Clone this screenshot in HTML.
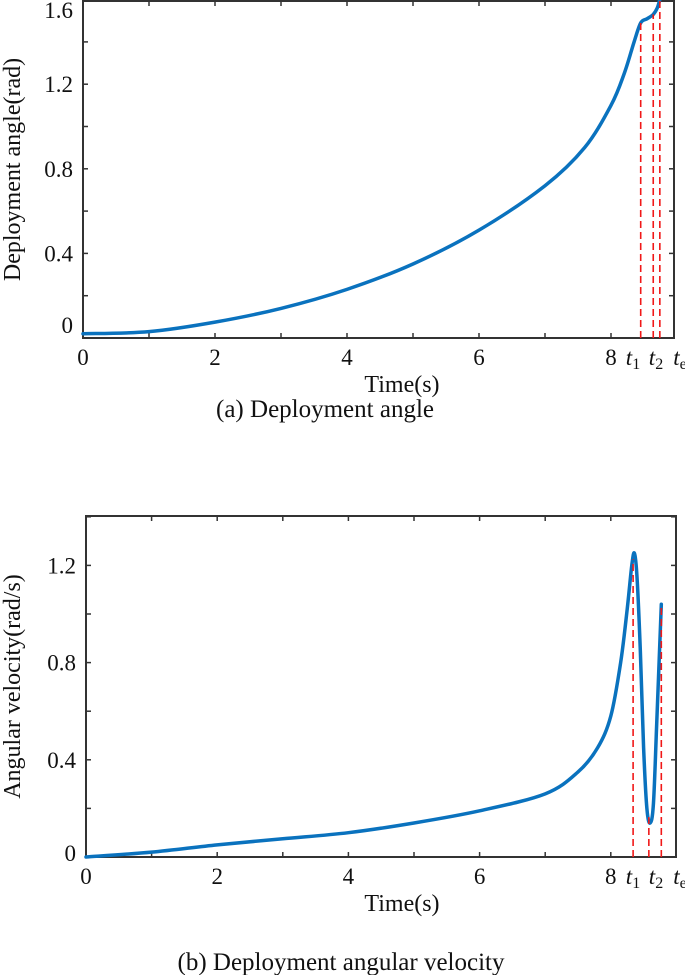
<!DOCTYPE html>
<html><head><meta charset="utf-8"><style>
body{margin:0;background:#fff;}
svg text{font-family:"Liberation Serif",serif;fill:#111;}
</style></head><body>
<svg id="s" width="685" height="975" xmlns="http://www.w3.org/2000/svg"></svg>
<script>
const angleT=[0,1,2,3,4,5,6,7,7.6,8,8.2,8.35,8.45,8.55,8.64,8.7,8.74];
const angleV=[0.02,0.03,0.075,0.14,0.23,0.35,0.51,0.72,0.9,1.1,1.25,1.4,1.49,1.51,1.53,1.56,1.6];
const velT=[0,1,2,3,4,5,6,7,7.5,7.8,8,8.15,8.25,8.32,8.36,8.4,8.45,8.5,8.55,8.6,8.65,8.7,8.77];
const velV=[0,0.02,0.05,0.075,0.1,0.14,0.19,0.26,0.35,0.45,0.58,0.8,1.02,1.2,1.25,1.15,0.85,0.45,0.2,0.14,0.22,0.55,1.04];
const xTicks=[0,2,4,6,8];
const xMinor=[1,3,5,7];
const angleTicks=[0,0.4,0.8,1.2,1.6];
const angleTickLabels=["0","0.4","0.8","1.2","1.6"];
const velTicks=[0,0.4,0.8,1.2];
const velTickLabels=["0","0.4","0.8","1.2"];
const angleMarks=[8.45,8.64,8.74];
const velMarks=[8.34,8.58,8.77];
const markLabels=["1","2","e"];

const svg=document.getElementById('s');
const NS="http://www.w3.org/2000/svg";
function mk(tag,attrs,parent){const e=document.createElementNS(NS,tag);for(const k in attrs)e.setAttribute(k,attrs[k]);(parent||svg).appendChild(e);return e;}
function smooth(pts){let d=`M${pts[0][0]},${pts[0][1]}`;for(let i=0;i<pts.length-1;i++){const p0=pts[Math.max(0,i-1)],p1=pts[i],p2=pts[i+1],p3=pts[Math.min(pts.length-1,i+2)];const c1x=p1[0]+(p2[0]-p0[0])/6,c1y=p1[1]+(p2[1]-p0[1])/6,c2x=p2[0]-(p3[0]-p1[0])/6,c2y=p2[1]-(p3[1]-p1[1])/6;d+=` C${c1x},${c1y} ${c2x},${c2y} ${p2[0]},${p2[1]}`;}return d;}

function chart(o){
  const g=mk('g',{});
  
  
  const X=t=>o.x0+o.xs*t, Y=v=>o.y0-o.ys*v;
  const box=mk('rect',{x:o.x0,y:o.top,width:o.right-o.x0,height:o.y0-o.top,fill:'none',stroke:'#333','stroke-width':2},g);
  
  xTicks.concat(xMinor).forEach(t=>{
    const l=mk('line',{x1:X(t),x2:X(t),y1:o.y0,y2:o.y0-5,stroke:'#333','stroke-width':1.5},g);
    
    const l2=mk('line',{x1:X(t),x2:X(t),y1:o.top,y2:o.top+5,stroke:'#333','stroke-width':1.5},g);
    
  });
  xTicks.forEach(t=>{const tx=mk('text',{x:X(t),y:o.y0+27,'font-size':23,'text-anchor':'middle'},g);tx.textContent=t;
    });
  o.marks.forEach((t,i)=>{const tx=mk('text',{x:o.mlx[i],y:o.y0+27,'font-size':23,'font-style':'italic','text-anchor':'middle'},g);
    tx.textContent='t';const ts=mk('tspan',{'font-size':16,'font-style':'normal',dy:4},tx);ts.textContent=markLabels[i];
    });
  for(let v=0;v<=o.ymax+1e-9;v+=0.2){
    const l=mk('line',{x1:o.x0,x2:o.x0+5,y1:Y(v),y2:Y(v),stroke:'#333','stroke-width':1.5},g);
    
    const l2=mk('line',{x1:o.right,x2:o.right-5,y1:Y(v),y2:Y(v),stroke:'#333','stroke-width':1.5},g);
    
  }
  o.yt.forEach((v,i)=>{const tx=mk('text',{x:o.x0-10,y:Math.min(Math.max(Y(v)+8,o.top+17),o.y0+o.zOff),'font-size':23,'text-anchor':'end'},g);tx.textContent=o.ytl[i];
    });
  const xl=mk('text',{x:o.xlx,y:o.y0+54,'font-size':24,'text-anchor':'middle'},g);xl.textContent='Time(s)';
  
  const yl=mk('text',{x:0,y:0,'font-size':24,'text-anchor':'middle',transform:`translate(${o.ylx},${(o.top+o.y0)/2}) rotate(-90)`},g);yl.textContent=o.ylabel;
  
  const pts=o.T.map((t,i)=>[X(t),Y(o.V[i])]);
  const p=mk('path',{d:smooth(pts),fill:'none',stroke:'#0a72be','stroke-width':3.5,'stroke-linecap':'round'},g);
  
  o.marks.forEach((t,i)=>{
    let j=0;while(j<o.T.length-2&&o.T[j+1]<t)j++;
    const f=(t-o.T[j])/(o.T[j+1]-o.T[j]);const v=o.V[j]+(o.V[j+1]-o.V[j])*f;
    const l=mk('line',{x1:X(t),x2:X(t),y1:o.y0,y2:Y(v),stroke:'#f01818','stroke-width':1.6,'stroke-dasharray':'7,4'},g);
    
  });
  const c=mk('text',{x:o.cx,y:o.cy,'font-size':25,'text-anchor':'middle'},g);c.textContent=o.caption;
  
}
chart({name:'deployment-angle-chart',x0:83,xs:66,right:674,top:1,y0:338,ys:211.5,ymax:1.6,yt:angleTicks,ytl:angleTickLabels,zOff:-5,
  T:angleT,V:angleV,marks:angleMarks,mlx:[633,656,680],xlx:402,ylx:20,ylabel:'Deployment angle(rad)',caption:'(a) Deployment angle',cx:325,cy:417});
chart({name:'angular-velocity-chart',x0:86,xs:65.6,right:676,top:516,y0:857,ys:243,ymax:1.4,yt:velTicks,ytl:velTickLabels,zOff:4,
  T:velT,V:velV,marks:velMarks,mlx:[633,656,680],xlx:402,ylx:20,ylabel:'Angular velocity(rad/s)',caption:'(b) Deployment angular velocity',cx:341,cy:970});
</script>
</body></html>
